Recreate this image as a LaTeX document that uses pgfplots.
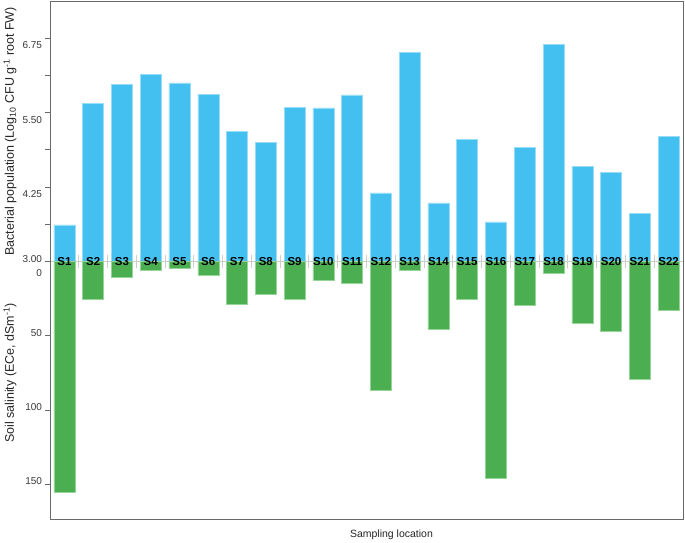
\documentclass[border=0pt]{standalone}
\usepackage{pgfplots}
\pgfplotsset{compat=1.18}
\usepackage{pgfplotstable}
\usepackage{fontspec}
\setmainfont{Liberation Sans}
\definecolor{barblue}{RGB}{67,192,240}
\definecolor{bluedge}{RGB}{150,221,248}
\definecolor{bargreen}{RGB}{75,174,80}
\definecolor{greenedge}{RGB}{150,212,152}
\definecolor{framegray}{RGB}{105,105,105}
\definecolor{zerogray}{RGB}{205,205,205}
\definecolor{ticklab}{RGB}{55,55,55}

\pgfplotstableread{
x bact sal
1 3.61 155.3
2 5.65 25.4
3 5.97 11.1
4 6.15 6.4
5 6.00 4.8
6 5.81 9.5
7 5.19 28.6
8 5.00 21.9
9 5.59 25.4
10 5.58 13.1
11 5.80 14.5
12 4.15 86.9
13 6.51 6.4
14 3.98 45.6
15 5.05 25.9
16 3.66 145.7
17 4.91 29.9
18 6.65 8.4
19 4.60 41.6
20 4.50 47.4
21 3.81 79.3
22 5.10 32.8
}\data

\begin{document}
\begin{tikzpicture}
\pgfplotsset{
  common/.style={
    width=633pt, scale only axis,
    xmin=0.5, xmax=22.5,
    axis line style={draw=none},
    tick style={framegray, line width=0.6pt},
    major tick length=4.5pt, minor tick length=4.5pt,
    tick align=outside,
    ytick pos=left,
    yticklabel style={font=\fontsize{10}{12}\selectfont, text=ticklab},
    /pgf/number format/assume math mode=true,
    ybar, bar width=21pt,
  }
}
% top axis: bacterial population
\begin{axis}[common, at={(0,0)}, anchor=south west,
  height=259.7pt, ymin=3, ymax=7.37,
  ytick={4.25,5.5,6.75},
  minor ytick={3.625,4.875,6.125},
  /pgf/number format/fixed, /pgf/number format/fixed zerofill, /pgf/number format/precision=2,
  yticklabel style={yshift=-7pt},
  extra y ticks={3},
  extra y tick style={grid=major, major grid style={zerogray, line width=0.9pt},
     yticklabel style={yshift=9.5pt}},
  xtick=\empty,
  extra x ticks={1.5,2.5,...,21.5},
  extra x tick labels={},
  extra x tick style={major tick length=13pt, tick align=center, xtick pos=left, major x tick style={draw=zerogray, line width=1pt}},
  ylabel={Bacterial population (Log\textsubscript{10} CFU g\textsuperscript{-1} root FW)},
  ylabel style={at={(axis description cs:0,0.5)}, anchor=center, yshift=40pt, font=\fontsize{12.5}{14}\selectfont, text=black!85},
]
\addplot[fill=barblue, draw=bluedge, line width=0.5pt] table[x=x, y=bact] {\data};
\end{axis}
% bottom axis: soil salinity
\begin{axis}[common, at={(0,0)}, anchor=north west, axis on top,
  height=257.8pt, ymin=0, ymax=173.3, y dir=reverse,
  ytick={50,100,150},
  yticklabel style={yshift=3pt},
  extra y ticks={0},
  extra y tick style={yticklabel style={yshift=-14.5pt}},
  xtick={1,2,...,22},
  xticklabels={S1,S2,S3,S4,S5,S6,S7,S8,S9,S10,S11,S12,S13,S14,S15,S16,S17,S18,S19,S20,S21,S22},
  xtick pos=right, xticklabel pos=right,
  xtick style={draw=none},
  xticklabel style={anchor=center, yshift=-5pt, font=\bfseries\fontsize{11.5}{13}\selectfont, text=black},
  xlabel={Sampling location},
  xlabel style={at={(axis description cs:0.5,0)}, anchor=center, xshift=25pt, yshift=-16pt, font=\fontsize{10.5}{12}\selectfont, text=black!85},
  ylabel={Soil salinity (ECe, dSm\textsuperscript{-1})},
  ylabel style={at={(axis description cs:0,0.566)}, anchor=center, yshift=40pt, font=\fontsize{12.5}{14}\selectfont, text=black!85},
]
\addplot[fill=bargreen, draw=greenedge, line width=0.5pt] table[x=x, y=sal] {\data};
\end{axis}
\draw[framegray, line width=0.8pt] (0,-257.8pt) -- (0,259.7pt) -- (633pt,259.7pt) -- (633pt,-257.8pt) -- cycle;
\pgfresetboundingbox
\path[use as bounding box] (-50pt,-280.8pt) rectangle (635pt,261.2pt);
\end{tikzpicture}
\end{document}
